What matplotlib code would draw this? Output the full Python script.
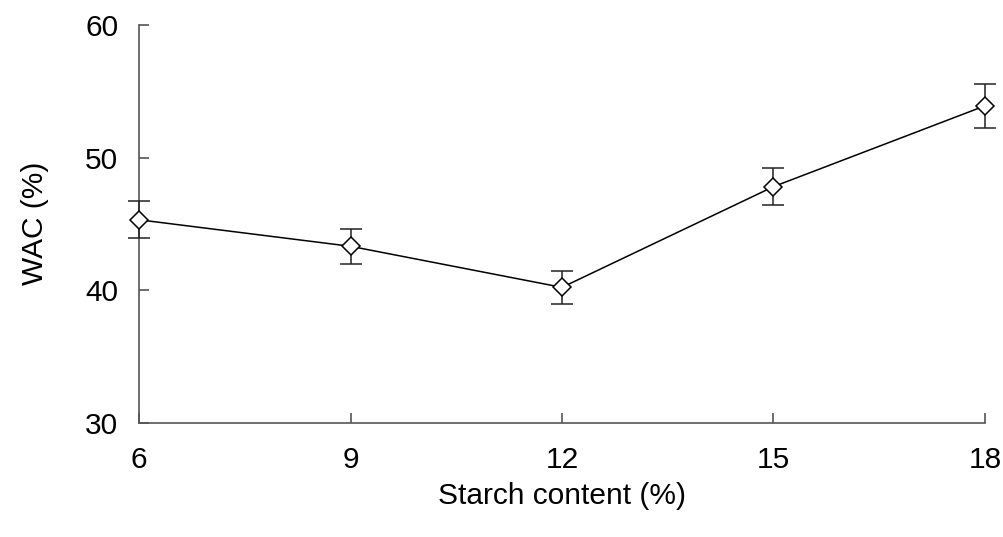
import matplotlib
matplotlib.use("Agg")
import matplotlib.pyplot as plt

starch = [6, 9, 12, 15, 18]
wac = [45.3, 43.3, 40.2, 47.8, 53.9]
wac_err = [1.4, 1.3, 1.25, 1.4, 1.65]
x_ticks = [6, 9, 12, 15, 18]
y_ticks = [30, 40, 50, 60]

plt.rcParams['font.family'] = ['Liberation Sans', 'DejaVu Sans']

fig = plt.figure(figsize=(10.04, 5.37), dpi=100)
ax = fig.add_axes([0.1385, 0.2132, 0.8425, 0.7402])

eb = ax.errorbar(starch, wac, yerr=wac_err, color='black', lw=1.1,
                 marker='D', ms=9.5, mfc='white', mec='black', mew=1.1,
                 ecolor='#222222', elinewidth=1.1, capsize=8, capthick=1.1, zorder=3)
for art in eb.lines[0:1]:
    art.set_clip_on(False)
for grp in eb.lines[1:]:
    for art in grp:
        art.set_clip_on(False)

ax.set_xlim(6, 18)
ax.set_ylim(30, 60)
ax.set_xticks(x_ticks)
ax.set_yticks(y_ticks)
for s in ['top', 'right']:
    ax.spines[s].set_visible(False)
for s in ['left', 'bottom']:
    ax.spines[s].set_color('#555555')
    ax.spines[s].set_linewidth(1.2)
ax.tick_params(direction='in', length=7, width=1.2, color='#555555',
               labelsize=21.5)
ax.tick_params(axis='x', pad=17)
ax.tick_params(axis='y', pad=15)
ax.set_xlabel('Starch content (%)', fontsize=21.5, labelpad=6)
ax.set_ylabel('WAC (%)', fontsize=21.5, labelpad=26)

fig.savefig('out.png', dpi=100)
